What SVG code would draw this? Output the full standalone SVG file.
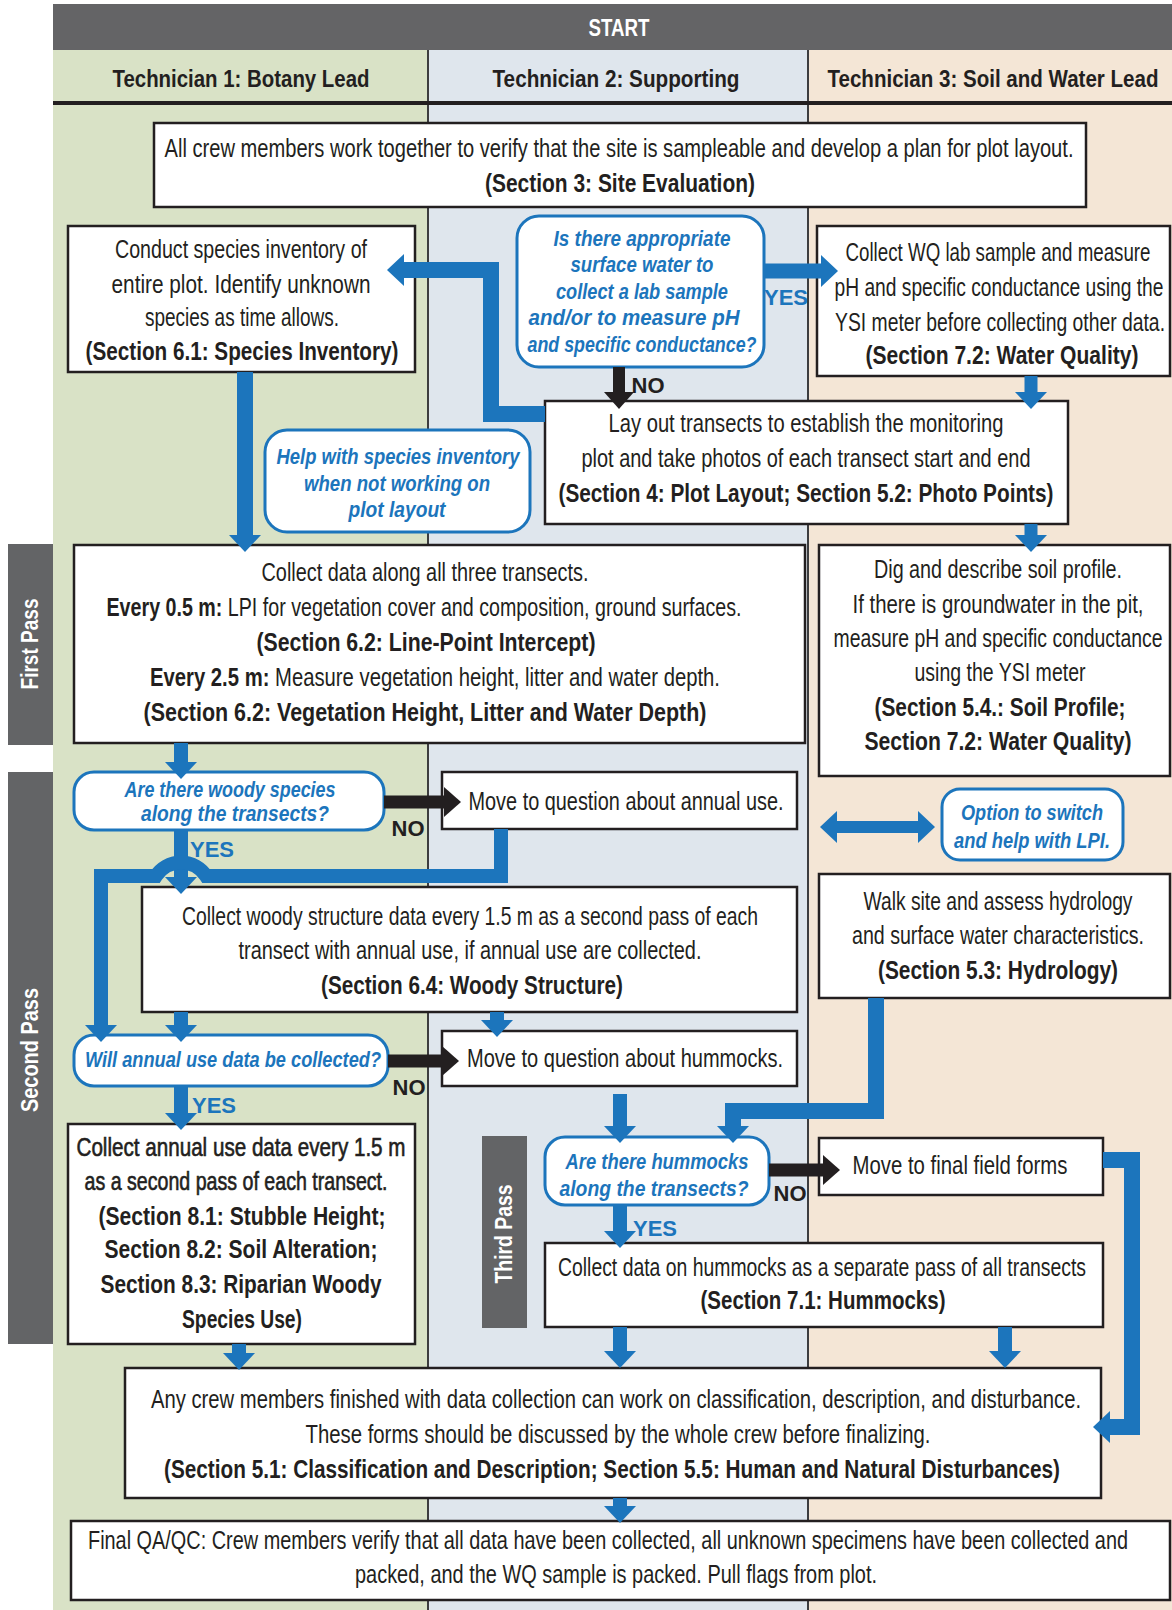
<svg xmlns="http://www.w3.org/2000/svg" width="1172" height="1610" viewBox="0 0 1172 1610">
<style>
text{font-family:'Liberation Sans Narrow','Liberation Sans',Arial,sans-serif;fill:#231f20;text-anchor:middle;}
.t{font-size:25px;}
.b{font-weight:bold;}
.semi{stroke:#231f20;stroke-width:0.6px;}
.q{font-size:22px;font-weight:bold;font-style:italic;fill:#1c75bc;}
.h{font-size:24px;font-weight:bold;}
.w{fill:#fff;font-weight:bold;font-size:23px;}
.yes{font-size:22px;font-weight:bold;fill:#1c75bc;}
.no{font-size:22px;font-weight:bold;}
.box{fill:#fff;stroke:#231f20;stroke-width:2.5;}
.rbox{fill:#fff;stroke:#1c75bc;stroke-width:3;}
.cb{fill:none;stroke:#1c75bc;stroke-linejoin:miter;}
.ck{fill:none;stroke:#231f20;}
.pass{fill:#636466;}
</style>
<defs>
<marker id="hb" markerUnits="userSpaceOnUse" markerWidth="17" markerHeight="32" viewBox="0 0 17 32" refX="1" refY="16" orient="auto-start-reverse"><path d="M0,0 L17,16 L0,32 z" fill="#1c75bc"/></marker>
<marker id="hk" markerUnits="userSpaceOnUse" markerWidth="17" markerHeight="30" viewBox="0 0 17 30" refX="1" refY="15" orient="auto"><path d="M0,0 L17,15 L0,30 z" fill="#231f20"/></marker>
</defs>

<g id="background">
<rect x="53" y="50" width="375" height="1560" fill="#d9e2c6"/>
<rect x="428" y="50" width="380" height="1560" fill="#dfe6ed"/>
<rect x="808" y="50" width="364" height="1560" fill="#f4e6d6"/>
<rect x="53" y="4" width="1119" height="46" fill="#646466"/>
<line x1="428" y1="50" x2="428" y2="1610" stroke="#3d3d3f" stroke-width="2"/>
<line x1="808" y1="50" x2="808" y2="1610" stroke="#3d3d3f" stroke-width="2"/>
<line x1="53" y1="103" x2="1172" y2="103" stroke="#231f20" stroke-width="4"/>
<text class="w" x="619" y="36" textLength="61" lengthAdjust="spacingAndGlyphs">START</text>
<text class="h" x="241" y="87" textLength="257" lengthAdjust="spacingAndGlyphs">Technician 1: Botany Lead</text>
<text class="h" x="616" y="87" textLength="247" lengthAdjust="spacingAndGlyphs">Technician 2: Supporting</text>
<text class="h" x="993" y="87" textLength="331" lengthAdjust="spacingAndGlyphs">Technician 3: Soil and Water Lead</text>
</g>

<g id="pass-labels">
<rect class="pass" x="8" y="544" width="45" height="201"/>
<text class="w" transform="translate(38,644) rotate(-90)" textLength="91" lengthAdjust="spacingAndGlyphs">First Pass</text>
<rect class="pass" x="8" y="772" width="45" height="572"/>
<text class="w" transform="translate(38,1050) rotate(-90)" textLength="124" lengthAdjust="spacingAndGlyphs">Second Pass</text>
<rect class="pass" x="482" y="1136" width="45" height="192"/>
<text class="w" transform="translate(512,1234) rotate(-90)" textLength="99" lengthAdjust="spacingAndGlyphs">Third Pass</text>
</g>

<g id="site-evaluation">
<rect class="box" x="154" y="123" width="932" height="84"/>
<text class="t" x="619" y="157" textLength="909" lengthAdjust="spacingAndGlyphs">All crew members work together to verify that the site is sampleable and develop a plan for plot layout.</text>
<text class="t b" x="620" y="192" textLength="270" lengthAdjust="spacingAndGlyphs">(Section 3: Site Evaluation)</text>
</g>

<g id="species-inventory">
<rect class="box" x="68" y="226" width="347" height="146"/>
<text class="t" x="241" y="258" textLength="252" lengthAdjust="spacingAndGlyphs">Conduct species inventory of</text>
<text class="t" x="241" y="293" textLength="259" lengthAdjust="spacingAndGlyphs">entire plot. Identify unknown</text>
<text class="t" x="242" y="326" textLength="194" lengthAdjust="spacingAndGlyphs">species as time allows.</text>
<text class="t b" x="242" y="360" textLength="313" lengthAdjust="spacingAndGlyphs">(Section 6.1: Species Inventory)</text>
</g>

<g id="q-surface-water">
<rect class="rbox" x="517" y="216" width="247" height="151" rx="22"/>
<text class="q" x="642" y="246" textLength="177" lengthAdjust="spacingAndGlyphs">Is there appropriate</text>
<text class="q" x="642" y="272" textLength="143" lengthAdjust="spacingAndGlyphs">surface water to</text>
<text class="q" x="642" y="299" textLength="172" lengthAdjust="spacingAndGlyphs">collect a lab sample</text>
<text class="q" x="634" y="325" textLength="211" lengthAdjust="spacingAndGlyphs">and/or to measure pH</text>
<text class="q" x="642" y="352" textLength="229" lengthAdjust="spacingAndGlyphs">and specific conductance?</text>
</g>

<g id="water-quality">
<rect class="box" x="817" y="226" width="353" height="150"/>
<text class="t" x="998" y="261" textLength="305" lengthAdjust="spacingAndGlyphs">Collect WQ lab sample and measure</text>
<text class="t" x="999" y="296" textLength="329" lengthAdjust="spacingAndGlyphs">pH and specific conductance using the</text>
<text class="t" x="1000" y="331" textLength="330" lengthAdjust="spacingAndGlyphs">YSI meter before collecting other data.</text>
<text class="t b" x="1002" y="364" textLength="273" lengthAdjust="spacingAndGlyphs">(Section 7.2: Water Quality)</text>
</g>

<g id="plot-layout">
<rect class="box" x="545" y="401" width="523" height="123"/>
<text class="t" x="806" y="432" textLength="395" lengthAdjust="spacingAndGlyphs">Lay out transects to establish the monitoring</text>
<text class="t" x="806" y="467" textLength="449" lengthAdjust="spacingAndGlyphs">plot and take photos of each transect start and end</text>
<text class="t b" x="806" y="502" textLength="495" lengthAdjust="spacingAndGlyphs">(Section 4: Plot Layout; Section 5.2: Photo Points)</text>
</g>

<g id="help-species">
<rect class="rbox" x="265" y="430" width="265" height="102" rx="22"/>
<text class="q" x="398" y="464" textLength="243" lengthAdjust="spacingAndGlyphs">Help with species inventory</text>
<text class="q" x="397" y="491" textLength="186" lengthAdjust="spacingAndGlyphs">when not working on</text>
<text class="q" x="397" y="517" textLength="97" lengthAdjust="spacingAndGlyphs">plot layout</text>
</g>

<g id="lpi">
<rect class="box" x="74" y="545" width="731" height="198"/>
<text class="t" x="425" y="581" textLength="327" lengthAdjust="spacingAndGlyphs">Collect data along all three transects.</text>
<text class="t" x="424" y="616" textLength="635" lengthAdjust="spacingAndGlyphs"><tspan class="b">Every 0.5 m:</tspan> LPI for vegetation cover and composition, ground surfaces.</text>
<text class="t b" x="426" y="651" textLength="339" lengthAdjust="spacingAndGlyphs">(Section 6.2: Line-Point Intercept)</text>
<text class="t" x="435" y="686" textLength="570" lengthAdjust="spacingAndGlyphs"><tspan class="b">Every 2.5 m:</tspan> Measure vegetation height, litter and water depth.</text>
<text class="t b" x="425" y="721" textLength="563" lengthAdjust="spacingAndGlyphs">(Section 6.2: Vegetation Height, Litter and Water Depth)</text>
</g>

<g id="soil-profile">
<rect class="box" x="819" y="545" width="351" height="231"/>
<text class="t" x="998" y="578" textLength="248" lengthAdjust="spacingAndGlyphs">Dig and describe soil profile.</text>
<text class="t" x="998" y="613" textLength="291" lengthAdjust="spacingAndGlyphs">If there is groundwater in the pit,</text>
<text class="t" x="998" y="647" textLength="329" lengthAdjust="spacingAndGlyphs">measure pH and specific conductance</text>
<text class="t" x="1000" y="681" textLength="171" lengthAdjust="spacingAndGlyphs">using the YSI meter</text>
<text class="t b" x="1000" y="716" textLength="251" lengthAdjust="spacingAndGlyphs">(Section 5.4.: Soil Profile;</text>
<text class="t b" x="998" y="750" textLength="267" lengthAdjust="spacingAndGlyphs">Section 7.2: Water Quality)</text>
</g>

<g id="q-woody">
<rect class="rbox" x="74" y="772" width="310" height="58" rx="20"/>
<text class="q" x="230" y="797" textLength="211" lengthAdjust="spacingAndGlyphs">Are there woody species</text>
<text class="q" x="235" y="821" textLength="188" lengthAdjust="spacingAndGlyphs">along the transects?</text>
</g>

<g id="move-annual">
<rect class="box" x="442" y="772" width="355" height="57"/>
<text class="t" x="626" y="810" textLength="315" lengthAdjust="spacingAndGlyphs">Move to question about annual use.</text>
</g>

<g id="option-switch">
<rect class="rbox" x="942" y="789" width="181" height="71" rx="18"/>
<text class="q" x="1032" y="820" textLength="142" lengthAdjust="spacingAndGlyphs">Option to switch</text>
<text class="q" x="1032" y="848" textLength="156" lengthAdjust="spacingAndGlyphs">and help with LPI.</text>
</g>

<g id="woody-structure">
<rect class="box" x="142" y="887" width="655" height="125"/>
<text class="t" x="470" y="925" textLength="576" lengthAdjust="spacingAndGlyphs">Collect woody structure data every 1.5 m as a second pass of each</text>
<text class="t" x="470" y="959" textLength="463" lengthAdjust="spacingAndGlyphs">transect with annual use, if annual use are collected.</text>
<text class="t b" x="472" y="994" textLength="302" lengthAdjust="spacingAndGlyphs">(Section 6.4: Woody Structure)</text>
</g>

<g id="hydrology">
<rect class="box" x="819" y="874" width="351" height="124"/>
<text class="t" x="998" y="910" textLength="269" lengthAdjust="spacingAndGlyphs">Walk site and assess hydrology</text>
<text class="t" x="998" y="944" textLength="292" lengthAdjust="spacingAndGlyphs">and surface water characteristics.</text>
<text class="t b" x="998" y="979" textLength="240" lengthAdjust="spacingAndGlyphs">(Section 5.3: Hydrology)</text>
</g>

<g id="q-annual">
<rect class="rbox" x="74" y="1035" width="314" height="51" rx="20"/>
<text class="q" x="233" y="1067" textLength="296" lengthAdjust="spacingAndGlyphs">Will annual use data be collected?</text>
</g>

<g id="move-hummocks">
<rect class="box" x="442" y="1031" width="355" height="55"/>
<text class="t" x="625" y="1067" textLength="316" lengthAdjust="spacingAndGlyphs">Move to question about hummocks.</text>
</g>

<g id="q-hummocks">
<rect class="rbox" x="545" y="1137" width="224" height="68" rx="20"/>
<text class="q" x="657" y="1169" textLength="183" lengthAdjust="spacingAndGlyphs">Are there hummocks</text>
<text class="q" x="654" y="1196" textLength="189" lengthAdjust="spacingAndGlyphs">along the transects?</text>
</g>

<g id="move-final">
<rect class="box" x="819" y="1138" width="284" height="57"/>
<text class="t" x="960" y="1174" textLength="215" lengthAdjust="spacingAndGlyphs">Move to final field forms</text>
</g>

<g id="annual-use">
<rect class="box" x="68" y="1124" width="347" height="220"/>
<text class="t semi" x="241" y="1156" textLength="329" lengthAdjust="spacingAndGlyphs">Collect annual use data every 1.5 m</text>
<text class="t semi" x="236" y="1190" textLength="303" lengthAdjust="spacingAndGlyphs">as a second pass of each transect.</text>
<text class="t b" x="242" y="1225" textLength="287" lengthAdjust="spacingAndGlyphs">(Section 8.1: Stubble Height;</text>
<text class="t b" x="241" y="1258" textLength="273" lengthAdjust="spacingAndGlyphs">Section 8.2: Soil Alteration;</text>
<text class="t b" x="241" y="1293" textLength="281" lengthAdjust="spacingAndGlyphs">Section 8.3: Riparian Woody</text>
<text class="t b" x="242" y="1328" textLength="120" lengthAdjust="spacingAndGlyphs">Species Use)</text>
</g>

<g id="hummocks-data">
<rect class="box" x="545" y="1243" width="558" height="84"/>
<text class="t" x="822" y="1276" textLength="528" lengthAdjust="spacingAndGlyphs">Collect data on hummocks as a separate pass of all transects</text>
<text class="t b" x="823" y="1309" textLength="245" lengthAdjust="spacingAndGlyphs">(Section 7.1: Hummocks)</text>
</g>

<g id="classification">
<rect class="box" x="125" y="1368" width="976" height="130"/>
<text class="t" x="616" y="1408" textLength="930" lengthAdjust="spacingAndGlyphs">Any crew members finished with data collection can work on classification, description, and disturbance.</text>
<text class="t" x="618" y="1443" textLength="625" lengthAdjust="spacingAndGlyphs">These forms should be discussed by the whole crew before finalizing.</text>
<text class="t b" x="612" y="1478" textLength="896" lengthAdjust="spacingAndGlyphs">(Section 5.1: Classification and Description; Section 5.5: Human and Natural Disturbances)</text>
</g>

<g id="final-qaqc">
<rect class="box" x="71" y="1521" width="1099" height="79"/>
<text class="t" x="608" y="1549" textLength="1040" lengthAdjust="spacingAndGlyphs">Final QA/QC: Crew members verify that all data have been collected, all unknown specimens have been collected and</text>
<text class="t" x="616" y="1583" textLength="522" lengthAdjust="spacingAndGlyphs">packed, and the WQ sample is packed. Pull flags from plot.</text>
</g>

<g id="connectors">
<path class="cb" stroke-width="16" d="M545,414 H491 V270 H403" marker-end="url(#hb)"/>
<path class="cb" stroke-width="15" d="M764,271 H822" marker-end="url(#hb)"/>
<path class="ck" stroke-width="12" d="M619,367 V393" marker-end="url(#hk)"/>
<path class="cb" stroke-width="13" d="M1031,376 V393" marker-end="url(#hb)"/>
<path class="cb" stroke-width="13" d="M1031,524 V536" marker-end="url(#hb)"/>
<path class="cb" stroke-width="16" d="M245,372 V536" marker-end="url(#hb)"/>
<path class="cb" stroke-width="14" d="M181,743 V763" marker-end="url(#hb)"/>
<path class="cb" stroke-width="14" d="M181,830 V878" marker-end="url(#hb)"/>
<path class="cb" stroke-width="14" d="M501,829 V876 H206 A30,30 0 0 0 156,876 H101 V1026" marker-end="url(#hb)"/>
<path class="ck" stroke-width="13" d="M384,802 H445" marker-end="url(#hk)"/>
<path class="cb" stroke-width="14" d="M181,1012 V1026" marker-end="url(#hb)"/>
<path class="cb" stroke-width="14" d="M497,1012 V1021" marker-end="url(#hb)"/>
<path class="ck" stroke-width="13" d="M388,1061 H443" marker-end="url(#hk)"/>
<path class="cb" stroke-width="14" d="M181,1086 V1114" marker-end="url(#hb)"/>
<path class="cb" stroke-width="14" d="M620,1094 V1127" marker-end="url(#hb)"/>
<path class="cb" stroke-width="16" d="M876,998 V1111 H733 V1127" marker-end="url(#hb)"/>
<path class="ck" stroke-width="13" d="M769,1170 H824" marker-end="url(#hk)"/>
<path class="cb" stroke-width="14" d="M620,1205 V1232" marker-end="url(#hb)"/>
<path class="cb" stroke-width="16" d="M1103,1160 H1132 V1427 H1109" marker-end="url(#hb)"/>
<path class="cb" stroke-width="14" d="M239,1344 V1354" marker-end="url(#hb)"/>
<path class="cb" stroke-width="14" d="M620,1327 V1352" marker-end="url(#hb)"/>
<path class="cb" stroke-width="14" d="M1005,1327 V1352" marker-end="url(#hb)"/>
<path class="cb" stroke-width="14" d="M620,1498 V1507" marker-end="url(#hb)"/>
<path class="cb" stroke-width="12" d="M836,827 H919" marker-start="url(#hb)" marker-end="url(#hb)"/>
<text class="yes" x="786" y="305">YES</text>
<text class="no" x="648" y="393">NO</text>
<text class="no" x="408" y="836">NO</text>
<text class="yes" x="212" y="857">YES</text>
<text class="no" x="409" y="1095">NO</text>
<text class="yes" x="214" y="1113">YES</text>
<text class="no" x="790" y="1201">NO</text>
<text class="yes" x="655" y="1236">YES</text>
</g>
</svg>
